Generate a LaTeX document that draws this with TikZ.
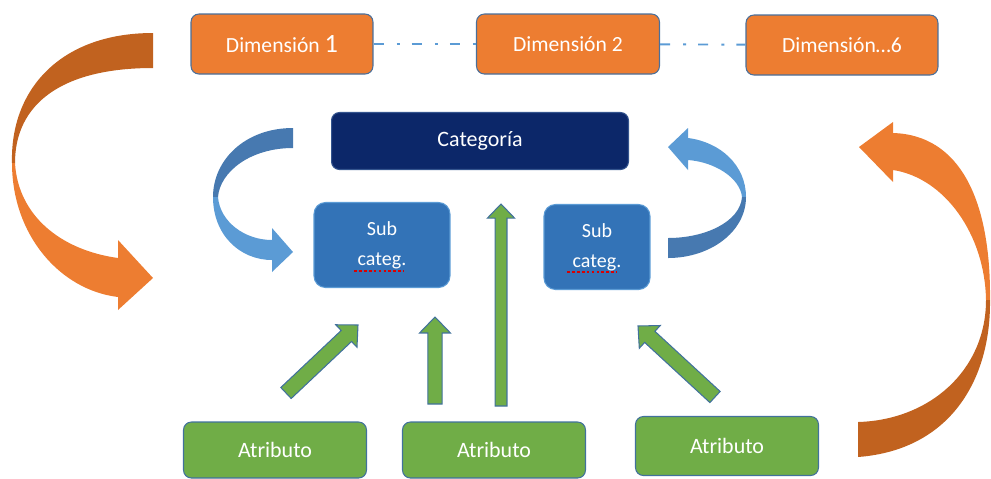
\documentclass[tikz,border=0pt]{standalone}
\usepackage{fontspec}
\setmainfont{Carlito}
\usepackage{xcolor}
\usepackage{tikz}
\usetikzlibrary{calc}
\definecolor{dimorange}{HTML}{ED7D31}
\definecolor{darkorange}{HTML}{C1621F}
\definecolor{boxline}{HTML}{4A6F9A}
\definecolor{catnavy}{HTML}{0C2769}
\definecolor{catline}{HTML}{34548E}
\definecolor{subblue}{HTML}{3373B7}
\definecolor{sublight}{HTML}{5B9BD5}
\definecolor{arrowblue}{HTML}{4779B0}
\definecolor{attrgreen}{HTML}{70AD47}
\definecolor{attrline}{HTML}{41719C}

\begin{document}
\begin{tikzpicture}[x=0.02cm, y=-0.02cm,
    dimbox/.style={draw=boxline, line width=0.6pt, fill=dimorange, rounded corners=4.5pt, minimum height=1.2cm, text=white, font=\fontsize{12.3}{14}\selectfont},
    catbox/.style={draw=catline, line width=0.6pt, fill=catnavy, rounded corners=4.5pt, minimum width=5.94cm, minimum height=1.14cm, text=white, font=\fontsize{12.5}{14}\selectfont},
    subbox/.style={draw=sublight, line width=0.6pt, fill=subblue, rounded corners=6.5pt, minimum height=1.7cm, align=center, text=white, font=\fontsize{11.4}{17}\selectfont},
    attrbox/.style={draw=attrline, line width=0.6pt, fill=attrgreen, rounded corners=4.5pt, minimum width=3.66cm, text=white, font=\fontsize{12.5}{14}\selectfont},
    dimlink/.style={draw=sublight, line width=1.1pt, dash pattern=on 5.7pt off 7.5pt on 1.7pt off 6.8pt},
    squigline/.style={draw=red!85!black, line width=0.6pt, dash pattern=on 1.6pt off 1.2pt},
    attrarrow/.style={fill=attrgreen, draw=attrline, line width=0.6pt, line join=miter}
]
\useasboundingbox (0,0) rectangle (991,478);
% DIMENSIONS
\node[dimbox, minimum width=3.64cm] (dimone) at (282,44) {Dimensión {\fontsize{15}{15}\selectfont 1}};
\node[dimbox, minimum width=3.66cm] (dimtwo) at (568,44) {Dimensión 2};
\node[dimbox, minimum width=3.84cm] (dimsix) at (842,45) {Dimensión…6};
\draw[dimlink] (dimone) -- (dimtwo);
\draw[dimlink] (dimtwo) -- (dimsix);
% CATEGORY AND SUB-CATEGORIES
\node[catbox] (cat) at (480,141) {Categoría};
\node[subbox, minimum width=2.72cm] (subleft) at (382,245) {Sub\\categ.};
\node[subbox, minimum width=2.12cm] (subright) at (597,247) {Sub\\categ.};
% spell-check marks under "categ"
\draw[squigline] ($(subleft.center)+(-28,26)$) -- ++(50,0);
\draw[squigline] ($(subright.center)+(-30,25)$) -- ++(50,0);
% ATTRIBUTES
\node[attrbox, minimum height=1.12cm] (attrone) at (275,450) {Atributo};
\node[attrbox, minimum height=1.12cm] (attrtwo) at (494,450) {Atributo};
\node[attrbox, minimum height=1.18cm] (attrthree) at (727,446) {Atributo};
% green block arrows: start / tip / half shaft / half head / head length
\coordinate (gaone) at (286,393);   \coordinate (gbone) at (358,325);
\coordinate (gatwo) at (435,404);   \coordinate (gbtwo) at (435,317);
\coordinate (gathree) at (501,406); \coordinate (gbthree) at (501,204);
\coordinate (gafour) at (715,397);  \coordinate (gbfour) at (638,326);
\foreach \s/\e/\w/\h/\l in {gaone/gbone/4.3pt/8.8pt/9.1pt, gatwo/gbtwo/4.1pt/8.8pt/9.1pt, gathree/gbthree/3.4pt/7.7pt/8pt, gafour/gbfour/4.3pt/8.8pt/9.1pt}
{
  \filldraw[attrarrow] let \p1=(\s), \p2=(\e), \n1={atan2(\y2-\y1,\x2-\x1)}, \n2={veclen(\x2-\x1,\y2-\y1)-\l} in
    ($(\p1)+(\n1+90:\w)$) -- ++(\n1:\n2) -- ++(\n1+90:\h-\w) -- (\p2)
    -- ($(\p1)+(\n1:\n2)+(\n1-90:\h)$) -- ++(\n1+90:\h-\w) -- ($(\p1)+(\n1-90:\w)$) -- cycle;
}
% LEFT ORANGE CURVED ARROW
\fill[darkorange] (153,33) .. controls (60,33) and (10,90) .. (12,163) -- (15,163) .. controls (15,105) and (60,68) .. (153,68) -- cycle;
\fill[dimorange] (12,163) .. controls (12,235) and (60,290) .. (118,297) -- (118,310) -- (153,278) -- (118,240) -- (118,258) .. controls (60,250) and (18,215) .. (15,163) -- cycle;
% RIGHT ORANGE CURVED ARROW
\fill[dimorange] (893,133) .. controls (960,135) and (991,200) .. (990,300) -- (986,300) .. controls (985,235) and (945,178) .. (893,170) -- (893,182) -- (859,147) -- (893,122) -- cycle;
\fill[darkorange] (990,300) .. controls (991,380) and (950,450) .. (858,457) -- (858,422) .. controls (930,420) and (986,370) .. (986,300) -- cycle;
% LEFT BLUE CURVED ARROW
\fill[arrowblue] (293,128) .. controls (245,128) and (213,160) .. (213,197) -- (218,197) .. controls (220,172) and (250,148) .. (293,148) -- cycle;
\fill[sublight] (213,197) .. controls (213,235) and (240,260) .. (272,260) -- (272,272) -- (293,252) -- (272,228) -- (272,240) .. controls (245,240) and (220,222) .. (218,197) -- cycle;
% RIGHT BLUE CURVED ARROW
\fill[sublight] (688,138) .. controls (720,142) and (746,165) .. (746,197) -- (742,197) .. controls (740,178) and (715,162) .. (688,160) -- (688,170) -- (668,147) -- (688,128) -- cycle;
\fill[arrowblue] (746,197) .. controls (746,232) and (710,258) .. (668,258) -- (668,238) .. controls (705,238) and (740,222) .. (742,197) -- cycle;
\end{tikzpicture}
\end{document}
